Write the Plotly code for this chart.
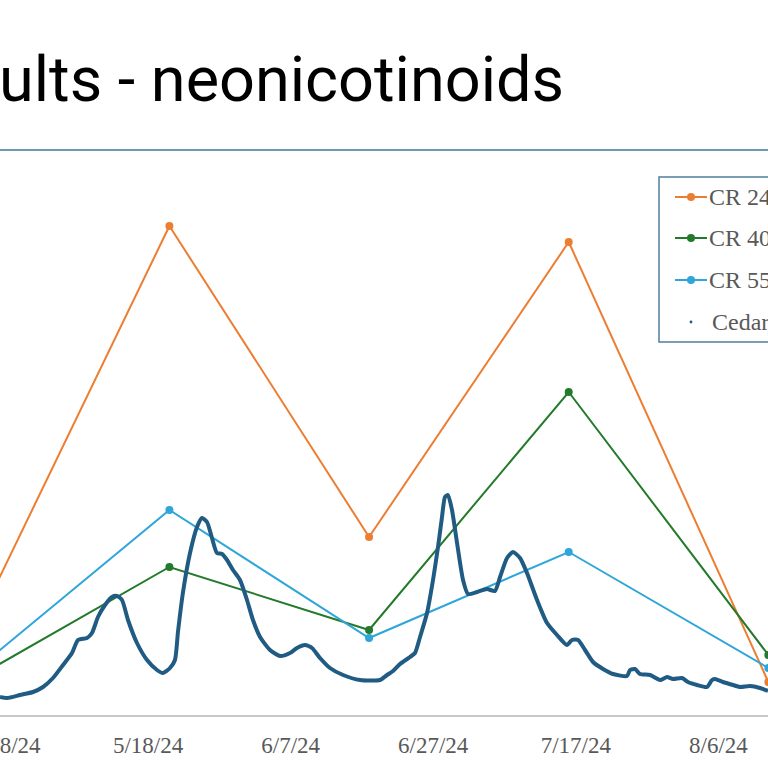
import pandas as pd
import plotly.graph_objects as go

# ---- data ----
sample_dates = ["2024-04-23", "2024-05-21", "2024-06-18", "2024-07-16", "2024-08-13"]
cr24 = [15.2, 97.8, 35.6, 94.6, 6.6]
cr40 = [6.8, 29.6, 17.0, 64.6, 12.0]
cr55 = [8.0, 41.0, 15.4, 32.6, 9.4]

flow_start = "2024-04-27"
flow_day = [0.24, 1.22, 3.05, 4.87, 6.27, 7.67, 9.08, 10.34, 11.18, 12.44,
            13.14, 13.98, 14.97, 15.95, 16.65, 17.35, 18.19, 19.45, 20.86, 22.26,
            23.10, 24.08, 24.78, 25.20, 25.91, 26.89, 27.87, 28.57, 29.27, 29.97,
            30.67, 31.38, 32.08, 32.92, 33.90, 34.88, 35.72, 36.71, 38.11, 39.51,
            40.91, 41.89, 43.02, 44.00, 45.12, 46.52, 48.35, 50.73, 53.54, 54.52,
            55.36, 56.34, 57.74, 58.44, 59.15, 60.13, 60.97, 61.67, 62.23, 62.65,
            63.07, 63.63, 64.34, 65.18, 65.88, 67.14, 68.54, 69.66, 70.37, 71.35,
            72.19, 73.17, 74.15, 75.56, 76.96, 78.36, 79.76, 80.46, 81.31, 82.29,
            83.41, 84.81, 86.21, 88.18, 88.60, 89.30, 90.00, 91.40, 92.81, 93.79,
            94.63, 95.89, 96.73, 98.00, 99.40, 100.10, 100.52, 101.64, 103.05, 104.03,
            105.43, 106.83, 107.95]
flow_cfs = [900, 850, 1000, 1150, 1400, 1850, 2500, 3100, 3750, 3850,
            4100, 4900, 5500, 5900, 5950, 5750, 4750, 3600, 2750, 2250,
            2100, 2350, 2750, 4150, 6150, 8100, 9400, 9850, 9650, 8850,
            8100, 8050, 7750, 7250, 6750, 5750, 4750, 3900, 3250, 2950,
            3100, 3350, 3500, 3350, 2850, 2350, 2000, 1750, 1750, 2000,
            2200, 2550, 2900, 3100, 3900, 5100, 6750, 8400, 9900, 10900,
            11000, 10250, 8600, 6750, 6050, 6150, 6300, 6200, 6900, 7850,
            8150, 7850, 7100, 5750, 4600, 4000, 3500, 3750, 3750, 3250,
            2650, 2300, 2050, 1950, 2250, 2300, 2050, 2000, 1750, 1900,
            1800, 1850, 1650, 1500, 1400, 1750, 1800, 1650, 1500, 1400,
            1450, 1350, 1200]

tick_dates = ["2024-04-28", "2024-05-18", "2024-06-07", "2024-06-27", "2024-07-17", "2024-08-06"]
tick_labels = ["4/28/24", "5/18/24", "6/7/24", "6/27/24", "7/17/24", "8/6/24"]

series_names = ["CR 24", "CR 40", "CR 55", "Cedar"]
title_text = "ults - neonicotinoids"

# ---- styling ----
W, H = 768, 768
T, B = 165, 53
PLOT_H = H - T - B
C_OR, C_GR, C_BL, C_FL = "#ED7D31", "#237A2B", "#2EA6D9", "#1F5B82"
GRAY = "#595959"

flow_x = pd.Timestamp(flow_start) + pd.to_timedelta(flow_day, unit="D")

fig = go.Figure()
for vals, col, nm in [(cr24, C_OR, series_names[0]), (cr40, C_GR, series_names[1]), (cr55, C_BL, series_names[2])]:
    fig.add_trace(go.Scatter(x=pd.to_datetime(sample_dates), y=vals, name=nm,
                             mode="lines+markers", line=dict(color=col, width=2),
                             marker=dict(color=col, size=8), showlegend=False))
fig.add_trace(go.Scatter(x=flow_x, y=flow_cfs, name=series_names[3], yaxis="y2",
                         mode="lines", line=dict(color=C_FL, width=4, shape="spline", smoothing=0.6),
                         showlegend=False))


def px(xp):
    return xp / W


def py(yp):
    return (H - B - yp) / PLOT_H


shapes = []
annotations = []
# title underline
shapes.append(dict(type="line", xref="paper", yref="paper", x0=0, x1=1, y0=py(150), y1=py(150),
                   line=dict(color="#6B9AB5", width=2)))
annotations.append(dict(text=title_text, xref="paper", yref="paper", x=px(-3), y=py(79),
                        xanchor="left", yanchor="middle", showarrow=False,
                        font=dict(family="Roboto", size=63, color="#000000")))
# legend box
shapes.append(dict(type="rect", xref="paper", yref="paper", x0=px(659), x1=px(800),
                   y0=py(342), y1=py(177), line=dict(color="#4F7F9F", width=1.5),
                   fillcolor="rgba(255,255,255,0)"))
leg_y = [197, 238, 280, 322]
for i, (col, nm) in enumerate([(C_OR, series_names[0]), (C_GR, series_names[1]),
                               (C_BL, series_names[2]), (C_FL, series_names[3])]):
    yy = leg_y[i]
    if i < 3:
        shapes.append(dict(type="line", xref="paper", yref="paper", x0=px(675), x1=px(707),
                           y0=py(yy), y1=py(yy), line=dict(color=col, width=2)))
        r = 4
    else:
        r = 1.4
    shapes.append(dict(type="circle", xref="paper", yref="paper", x0=px(691 - r), x1=px(691 + r),
                       y0=py(yy + r), y1=py(yy - r), fillcolor=col, line=dict(color=col, width=0)))
    annotations.append(dict(text=nm, xref="paper", yref="paper", x=px(707 if i < 3 else 710), y=py(yy),
                            xanchor="left", yanchor="middle", showarrow=False,
                            font=dict(family="Liberation Serif", size=24, color=GRAY)))

fig.update_layout(
    width=W, height=H,
    margin=dict(l=0, r=0, t=T, b=B, autoexpand=False),
    paper_bgcolor="white", plot_bgcolor="white",
    showlegend=False,
    xaxis=dict(type="date", range=["2024-04-27 05:46", "2024-08-12 22:48"],
               tickvals=pd.to_datetime(tick_dates), ticktext=tick_labels,
               showgrid=False, zeroline=False, showline=True, linecolor="#C8C8C8", linewidth=2,
               ticks="", ticklabelstandoff=8, ticklabeloverflow="allow",
               tickfont=dict(family="Liberation Serif", size=23, color=GRAY)),
    yaxis=dict(range=[0, 110], visible=False, fixedrange=True),
    yaxis2=dict(range=[0, 27500], overlaying="y", side="right", visible=False),
    shapes=shapes, annotations=annotations,
)

fig.write_html("out.html", config={"displayModeBar": False},
               post_script="document.body.style.margin='0';document.body.style.overflow='hidden';")
